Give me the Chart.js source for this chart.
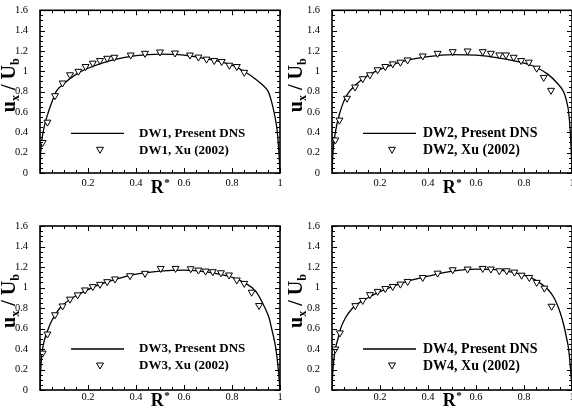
<!DOCTYPE html>
<html><head><meta charset="utf-8">
<script src="https://cdn.jsdelivr.net/npm/chart.js@4.4.1/dist/chart.umd.min.js"></script>
<style>
html,body{margin:0;padding:0;background:#fff;overflow:hidden;width:572px;height:412px;}
#wrap{position:relative;width:572px;height:412px;overflow:hidden;background:#fff;}
canvas{position:absolute;}
</style></head><body><div id="wrap">
<canvas id="c1" width="286" height="206" style="left:0;top:0"></canvas>
<canvas id="c2" width="300" height="206" style="left:286px;top:0"></canvas>
<canvas id="c3" width="286" height="206" style="left:0;top:206px"></canvas>
<canvas id="c4" width="300" height="206" style="left:286px;top:206px"></canvas>
</div>
<script>
// ---------- DATA ----------
const caseNames = ['DW1', 'DW2', 'DW3', 'DW4'];
const seriesDNS = 'Present DNS';
const seriesXu = 'Xu (2002)';
const xTickValues = [0, 0.2, 0.4, 0.6, 0.8, 1];
const yTickValues = [0, 0.2, 0.4, 0.6, 0.8, 1, 1.2, 1.4, 1.6];

// DW1
const dw1DnsX = [0, 0.003, 0.01, 0.02, 0.035, 0.05, 0.067, 0.1, 0.15, 0.2, 0.3, 0.4, 0.5, 0.6, 0.7, 0.8, 0.85, 0.9, 0.93, 0.951, 0.965, 0.975, 0.983, 0.989, 0.994, 0.998, 1];
const dw1DnsY = [0, 0.2, 0.36, 0.48, 0.6, 0.7, 0.8, 0.88, 0.97, 1.03, 1.11, 1.155, 1.17, 1.16, 1.12, 1.06, 1.0, 0.92, 0.86, 0.8, 0.7, 0.6, 0.5, 0.4, 0.25, 0.1, 0];
const dw1XuX = [0.011, 0.031, 0.0625, 0.094, 0.125, 0.16, 0.19, 0.22, 0.25, 0.28, 0.31, 0.378, 0.4375, 0.5, 0.5625, 0.625, 0.66, 0.694, 0.726, 0.757, 0.789, 0.82, 0.851];
const dw1XuY = [0.30, 0.50, 0.76, 0.885, 0.966, 1.0, 1.047, 1.08, 1.106, 1.128, 1.138, 1.16, 1.177, 1.19, 1.18, 1.16, 1.14, 1.12, 1.106, 1.096, 1.06, 1.047, 0.99];

// DW2
const dw2DnsX = [0, 0.004, 0.014, 0.03, 0.045, 0.06, 0.1, 0.15, 0.2, 0.3, 0.4, 0.5, 0.6, 0.7, 0.8, 0.85, 0.9, 0.94, 0.96, 0.97, 0.98, 0.986, 0.993, 0.997, 1];
const dw2DnsY = [0, 0.2, 0.4, 0.57, 0.68, 0.76, 0.87, 0.96, 1.02, 1.1, 1.145, 1.165, 1.16, 1.13, 1.08, 1.04, 0.97, 0.88, 0.82, 0.77, 0.68, 0.6, 0.4, 0.2, 0];
const dw2XuX = [0.014, 0.031, 0.0625, 0.096, 0.128, 0.158, 0.19, 0.222, 0.253, 0.285, 0.315, 0.378, 0.44, 0.503, 0.565, 0.628, 0.662, 0.697, 0.725, 0.757, 0.788, 0.82, 0.853, 0.882, 0.9125];
const dw2XuY = [0.325, 0.52, 0.735, 0.846, 0.927, 0.966, 1.015, 1.047, 1.073, 1.09, 1.112, 1.151, 1.177, 1.193, 1.2, 1.193, 1.177, 1.161, 1.161, 1.138, 1.106, 1.09, 1.031, 0.94, 0.813];

// DW3
const dw3DnsX = [0, 0.003, 0.011, 0.02, 0.035, 0.05, 0.083, 0.1, 0.15, 0.2, 0.25, 0.3, 0.4, 0.5, 0.6, 0.7, 0.8, 0.85, 0.9, 0.9375, 0.955, 0.965, 0.975, 0.983, 0.993, 1];
const dw3DnsY = [0, 0.2, 0.4, 0.5, 0.6, 0.68, 0.8, 0.84, 0.92, 0.98, 1.03, 1.07, 1.13, 1.16, 1.17, 1.15, 1.1, 1.05, 0.96, 0.8, 0.7, 0.6, 0.5, 0.4, 0.2, 0];
const dw3XuX = [0.011, 0.031, 0.0625, 0.094, 0.125, 0.157, 0.1875, 0.22, 0.25, 0.28, 0.3125, 0.375, 0.4375, 0.503, 0.565, 0.628, 0.66, 0.69, 0.72, 0.754, 0.7875, 0.82, 0.851, 0.882, 0.9125];
const dw3XuY = [0.36, 0.546, 0.734, 0.82, 0.886, 0.928, 0.976, 1.008, 1.031, 1.057, 1.083, 1.115, 1.138, 1.186, 1.186, 1.183, 1.17, 1.16, 1.154, 1.144, 1.122, 1.073, 1.04, 0.954, 0.824];

// DW4
const dw4DnsX = [0, 0.004, 0.014, 0.025, 0.036, 0.055, 0.086, 0.1, 0.15, 0.2, 0.3, 0.4, 0.5, 0.6, 0.7, 0.8, 0.85, 0.9, 0.925, 0.944, 0.958, 0.969, 0.978, 0.986, 0.994, 1];
const dw4DnsY = [0, 0.2, 0.4, 0.5, 0.6, 0.7, 0.8, 0.83, 0.9, 0.96, 1.05, 1.11, 1.16, 1.18, 1.17, 1.12, 1.07, 0.98, 0.9, 0.8, 0.7, 0.6, 0.5, 0.4, 0.2, 0];
const dw4XuX = [0.014, 0.033, 0.097, 0.128, 0.158, 0.19, 0.222, 0.253, 0.285, 0.315, 0.378, 0.44, 0.503, 0.565, 0.628, 0.662, 0.697, 0.728, 0.76, 0.79, 0.822, 0.853, 0.885, 0.915];
const dw4XuY = [0.40, 0.557, 0.823, 0.874, 0.93, 0.962, 0.99, 1.01, 1.033, 1.059, 1.098, 1.14, 1.173, 1.18, 1.186, 1.18, 1.163, 1.163, 1.15, 1.12, 1.098, 1.05, 0.994, 0.817];

// ---------- RENDERING ----------
const FONT = "'Liberation Serif', 'Times New Roman', serif";
const fmt = v => String(Math.round(v * 10) / 10);
const pts = (xs, ys) => xs.map((x, i) => ({x: x, y: ys[i]}));

function drawTri(ctx, x, y, r) {
  ctx.beginPath();
  ctx.moveTo(x, y + r);
  ctx.lineTo(x - r * Math.sin(Math.PI / 3), y - r / 2);
  ctx.lineTo(x + r * Math.sin(Math.PI / 3), y - r / 2);
  ctx.closePath();
  ctx.fillStyle = '#fff';
  ctx.fill();
  ctx.stroke();
}

const decor = {
  id: 'decor',
  afterDatasetsDraw(chart, args, o) {
    const {ctx, chartArea: a} = chart;
    const sx = chart.scales.x, sy = chart.scales.y;
    ctx.save();
    ctx.strokeStyle = '#000';
    ctx.lineWidth = 1;
    ctx.beginPath();
    for (let i = 0; i <= 20; i++) {
      const px = Math.round(sx.getPixelForValue(i * 0.05)) + 0.5;
      const len = i % 4 === 0 ? 5 : 3;
      ctx.moveTo(px, a.bottom); ctx.lineTo(px, a.bottom - len);
      ctx.moveTo(px, a.top); ctx.lineTo(px, a.top + len);
    }
    for (let i = 0; i <= 32; i++) {
      const py = Math.round(sy.getPixelForValue(i * 0.05)) + 0.5;
      const len = i % 4 === 0 ? 5 : 3;
      ctx.moveTo(a.left, py); ctx.lineTo(a.left + len, py);
      ctx.moveTo(a.right, py); ctx.lineTo(a.right - len, py);
    }
    ctx.stroke();
    ctx.lineWidth = 1.6;
    ctx.strokeRect(a.left, a.top, a.right - a.left, a.bottom - a.top);

    // legend
    const L = o.legend;
    ctx.lineWidth = 1.3;
    ctx.beginPath();
    ctx.moveTo(a.left + 31, a.top + L.row1);
    ctx.lineTo(a.left + 84, a.top + L.row1);
    ctx.stroke();
    ctx.lineWidth = 1;
    drawTri(ctx, a.left + 60, a.top + L.row2 - 1, 4);
    ctx.fillStyle = '#000';
    ctx.font = 'bold ' + L.size + 'px ' + FONT;
    ctx.textBaseline = 'middle';
    ctx.textAlign = 'left';
    ctx.fillText(o.name + ', ' + seriesDNS, a.left + L.textX, a.top + L.row1);
    ctx.fillText(o.name + ', ' + seriesXu, a.left + L.textX, a.top + L.row2);

    // x title R*
    ctx.textBaseline = 'alphabetic';
    ctx.font = 'bold 18px ' + FONT;
    const wR = ctx.measureText('R').width;
    ctx.font = 'bold 11px ' + FONT;
    const wS = ctx.measureText('*').width;
    const cx = (a.left + a.right) / 2;
    const bx = a.bottom + o.xTitleBase;
    ctx.font = 'bold 18px ' + FONT;
    ctx.fillText('R', cx - (wR + wS) / 2, bx);
    ctx.font = 'bold 11px ' + FONT;
    ctx.fillText('*', cx - (wR + wS) / 2 + wR + 0.5, bx - 7);

    // y title u_x / U_b
    ctx.save();
    ctx.translate(a.left + o.yTitleBase, a.top + 75);
    ctx.rotate(-Math.PI / 2);
    const parts = [
      ['u', 20, 0], ['x', 12, 4], [' / ', 20, 0], ['U', 20, 0], ['b', 12, 4]
    ];
    let tw = 0;
    parts.forEach(p => { ctx.font = 'bold ' + p[1] + 'px ' + FONT; tw += ctx.measureText(p[0]).width; });
    let px0 = -tw / 2;
    parts.forEach(p => {
      ctx.font = 'bold ' + p[1] + 'px ' + FONT;
      ctx.fillText(p[0], px0, p[2]);
      px0 += ctx.measureText(p[0]).width;
    });
    ctx.restore();
    ctx.restore();
  }
};

const dnsSets = [[dw1DnsX, dw1DnsY], [dw2DnsX, dw2DnsY], [dw3DnsX, dw3DnsY], [dw4DnsX, dw4DnsY]];
const xuSets = [[dw1XuX, dw1XuY], [dw2XuX, dw2XuY], [dw3XuX, dw3XuY], [dw4XuX, dw4XuY]];

const layouts = [
  {id: 'c1', pad: {left: 0, right: 6, top: 10, bottom: 0}, xH: 33, lab: -4, xTitleBase: 20, yTitleBase: -25,
   legend: {row1: 123, row2: 140, textX: 99, size: 13}},
  {id: 'c2', pad: {left: 6, right: 14, top: 10, bottom: 0}, xH: 33, lab: -4, xTitleBase: 20, yTitleBase: -30,
   legend: {row1: 123, row2: 140, textX: 91, size: 14}},
  {id: 'c3', pad: {left: 0, right: 6, top: 20, bottom: 0}, xH: 22, lab: -7, xTitleBase: 16, yTitleBase: -25,
   legend: {row1: 123, row2: 140, textX: 99, size: 13}},
  {id: 'c4', pad: {left: 6, right: 14, top: 20, bottom: 0}, xH: 22, lab: -7, xTitleBase: 16, yTitleBase: -30,
   legend: {row1: 123, row2: 140, textX: 91, size: 14}}
];

layouts.forEach((L, k) => {
  new Chart(document.getElementById(L.id), {
    type: 'scatter',
    data: {
      datasets: [
        {label: caseNames[k] + ', ' + seriesDNS, data: pts(dnsSets[k][0], dnsSets[k][1]), showLine: true,
         pointRadius: 0, borderColor: '#000', borderWidth: 1.3, cubicInterpolationMode: 'monotone', order: 2},
        {label: caseNames[k] + ', ' + seriesXu, data: pts(xuSets[k][0], xuSets[k][1]), showLine: false,
         pointStyle: 'triangle', rotation: 180, pointRadius: 4, borderWidth: 1, borderColor: '#000',
         backgroundColor: '#fff', order: 1}
      ]
    },
    options: {
      responsive: false, animation: false, devicePixelRatio: 1,
      layout: {padding: L.pad},
      plugins: {legend: {display: false}, tooltip: {enabled: false},
        decor: {name: caseNames[k], legend: L.legend, xTitleBase: L.xTitleBase, yTitleBase: L.yTitleBase}},
      scales: {
        x: {type: 'linear', min: 0, max: 1, afterBuildTicks: s => { s.ticks = xTickValues.map(v => ({value: v})); },
            afterFit: s => { s.height = L.xH; },
            grid: {display: false}, border: {display: false},
            ticks: {color: '#000', font: {family: FONT, size: 10.5}, padding: L.lab, maxRotation: 0,
                    callback: v => v === 0 ? '' : fmt(v)}},
        y: {type: 'linear', min: 0, max: 1.6, afterBuildTicks: s => { s.ticks = yTickValues.map(v => ({value: v})); },
            afterFit: s => { s.width = 40; },
            grid: {display: false}, border: {display: false},
            ticks: {color: '#000', font: {family: FONT, size: 10.5}, padding: 4, callback: v => fmt(v)}}
      }
    },
    plugins: [decor]
  });
});
</script></body></html>
